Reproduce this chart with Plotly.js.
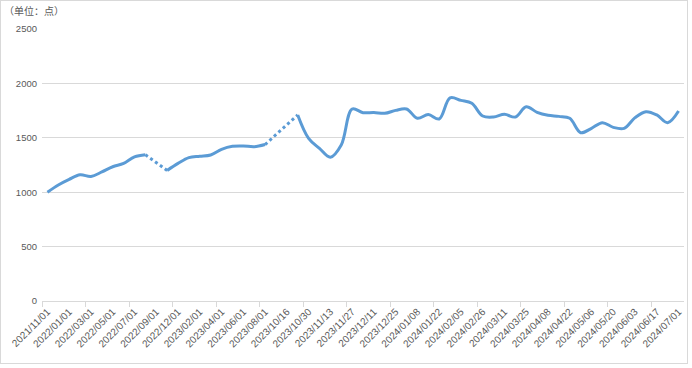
<!DOCTYPE html>
<html>
<head>
<meta charset="utf-8">
<script src="https://cdn.plot.ly/plotly-3.0.1.min.js"></script>
<style>
  html, body { margin: 0; padding: 0; background: #fff; }
  #wrap { position: relative; width: 692px; height: 368px; }
  #chart { width: 692px; height: 368px; }
  #frame { position: absolute; left: 0; top: 0; width: 686px; height: 362px; border: 1px solid #d9d9d9; pointer-events: none; }
</style>
</head>
<body>
<div id="wrap">
  <div id="chart"></div>
  <div id="frame"></div>
</div>
<script>
// Category dates (unlabelled ones are estimated)
const dates = [
  "2021/11/01","2021/12/01","2022/01/01","2022/02/01","2022/03/01","2022/04/01",
  "2022/05/01","2022/06/01","2022/07/01","2022/08/01","2022/09/01","2022/11/01",
  "2022/12/01","2023/01/01","2023/02/01","2023/03/01","2023/04/01","2023/05/01",
  "2023/06/01","2023/07/01","2023/08/01","2023/09/01","2023/10/16","2023/10/23",
  "2023/10/30","2023/11/06","2023/11/13","2023/11/20","2023/11/27","2023/12/04",
  "2023/12/11","2023/12/18","2023/12/25","2024/01/01","2024/01/08","2024/01/15",
  "2024/01/22","2024/01/29","2024/02/05","2024/02/19","2024/02/26","2024/03/04",
  "2024/03/11","2024/03/18","2024/03/25","2024/04/01","2024/04/08","2024/04/15",
  "2024/04/22","2024/04/29","2024/05/06","2024/05/13","2024/05/20","2024/05/27",
  "2024/06/03","2024/06/10","2024/06/17","2024/06/24","2024/07/01"
];
// Index values (null = no data, drawn as dotted connection)
const values = [
  1000, 1066, 1118, 1160, 1145, 1186,
  1234, 1265, 1325, 1345, null, 1200,
  1265, 1318, 1330, 1342, 1394, 1422,
  1425, 1418, 1438, null, null, 1710,
  1495, 1403, 1322, 1434, 1765, 1731,
  1733, 1725, 1752, 1765, 1679, 1714,
  1673, 1867, 1844, 1817, 1700, 1691,
  1716, 1691, 1786, 1734, 1707, 1697,
  1679, 1547, 1587, 1639, 1596, 1587,
  1685, 1740, 1710, 1639, 1746
];
const yTicks = [0, 500, 1000, 1500, 2000, 2500];
const unitLabel = "（单位：点）";

const idx = dates.map((d, i) => i);
const labelIdx = idx.filter(i => i % 2 === 0);
const labelText = labelIdx.map(i => dates[i]);
const boundaryTicks = idx.filter(i => i % 4 === 0).map(i => i - 0.5);

const BLUE = "#5b9bd5";
const traces = [{
  type: "scatter", mode: "lines",
  x: idx, y: values,
  connectgaps: false,
  line: { color: BLUE, width: 3, shape: "spline", smoothing: 1 },
  hoverinfo: "skip", showlegend: false
}];
// dotted bridges across missing values
for (let i = 1; i < values.length; i++) {
  if (values[i] === null && values[i - 1] !== null) {
    let j = i;
    while (j < values.length && values[j] === null) j++;
    if (j < values.length) {
      traces.push({
        type: "scatter", mode: "lines",
        x: [i - 1, j], y: [values[i - 1], values[j]],
        line: { color: BLUE, width: 3, dash: "dot" },
        hoverinfo: "skip", showlegend: false
      });
    }
  }
}

const layout = {
  width: 692, height: 368,
  margin: { l: 42, r: 8, t: 29, b: 67 },
  paper_bgcolor: "#ffffff", plot_bgcolor: "#ffffff",
  font: { family: "Liberation Sans, Arial, sans-serif", color: "#595959", size: 10 },
  title: {
    text: unitLabel,
    font: { family: "Noto Sans CJK SC, sans-serif", size: 10, color: "#595959" },
    x: 4 / 692, xref: "container", xanchor: "left",
    y: 1 - 11 / 368, yref: "container", yanchor: "middle"
  },
  xaxis: {
    type: "linear",
    range: [-0.5, dates.length - 0.5],
    tickmode: "array", tickvals: labelIdx, ticktext: labelText,
    tickangle: -45,
    ticks: "",
    showgrid: false, zeroline: false,
    showline: true, linecolor: "#d9d9d9", linewidth: 1,
    tickfont: { size: 10, color: "#595959" },
    minor: { tickmode: "array", tickvals: boundaryTicks, ticks: "outside", ticklen: 5, tickcolor: "#d9d9d9", tickwidth: 1, showgrid: false }
  },
  yaxis: {
    range: [0, 2500],
    tickmode: "array", tickvals: yTicks,
    showgrid: true, gridcolor: "#d9d9d9", gridwidth: 1,
    zeroline: false, showline: false, ticks: "",
    tickfont: { size: 9.5, color: "#595959" },
    ticklabelstandoff: 4
  }
};

Plotly.newPlot("chart", traces, layout, { staticPlot: true, displayModeBar: false });
</script>
</body>
</html>
